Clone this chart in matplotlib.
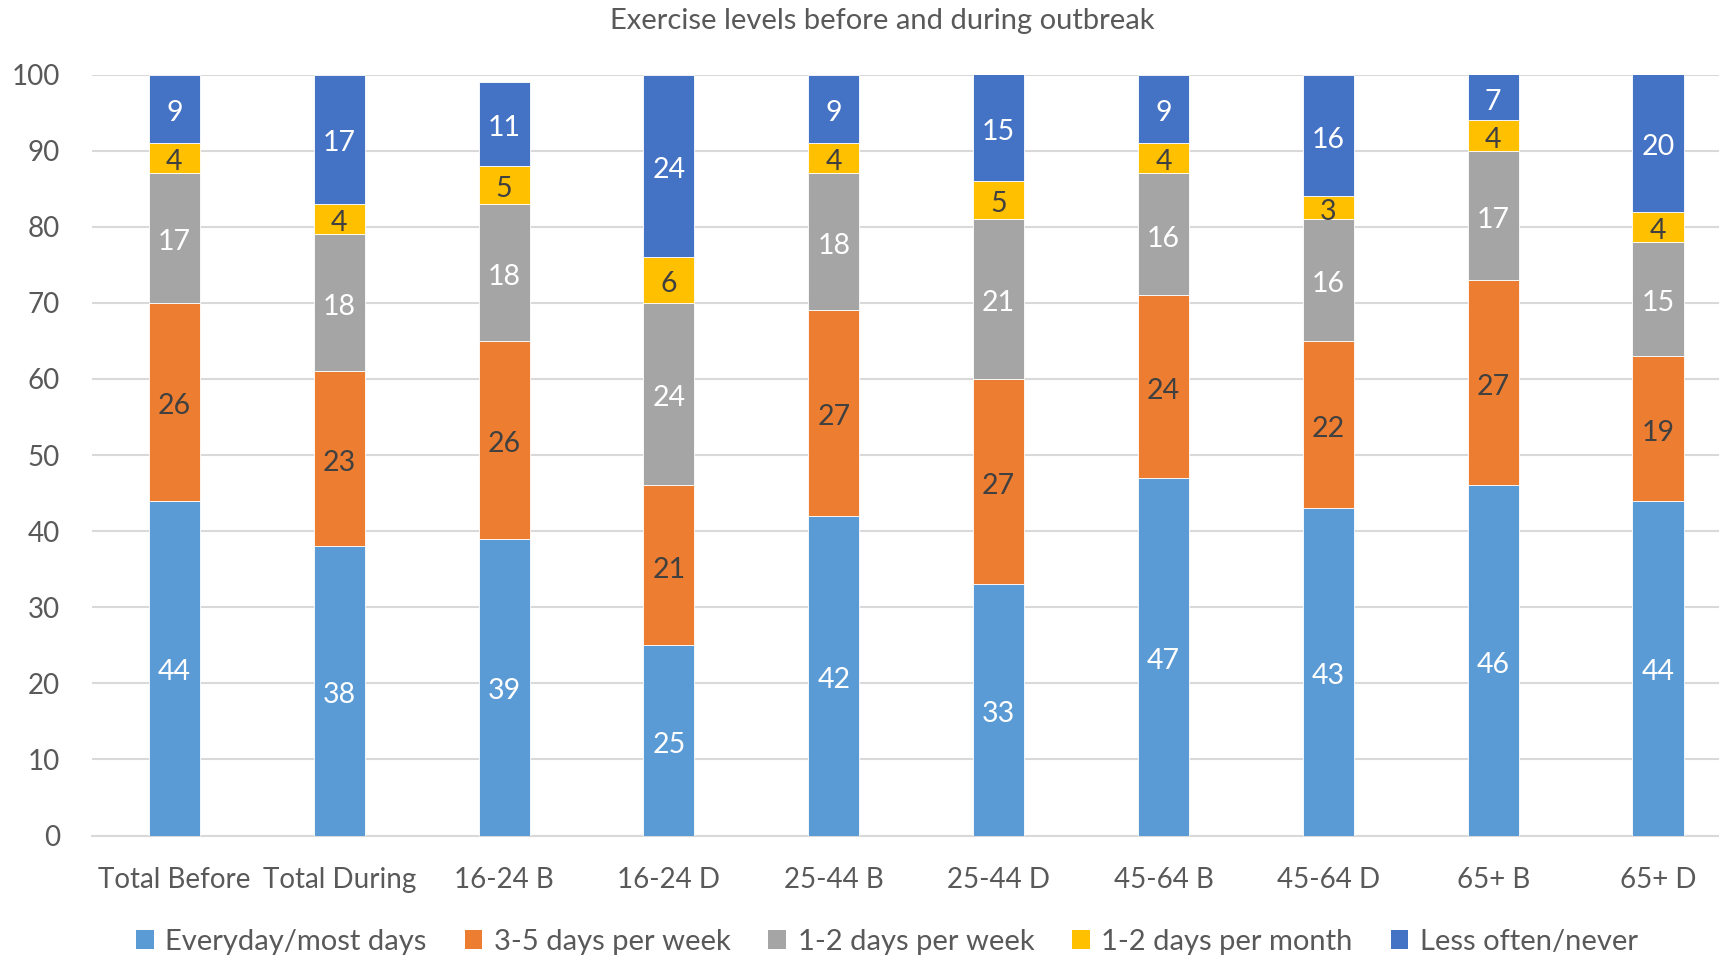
import matplotlib
matplotlib.use("Agg")
import matplotlib.pyplot as plt
import numpy as np

plt.rcParams['font.family'] = ['Lato', 'DejaVu Sans']

categories = ["Total Before", "Total During", "16-24 B", "16-24 D", "25-44 B",
              "25-44 D", "45-64 B", "45-64 D", "65+ B", "65+ D"]
series_names = ["Everyday/most days", "3-5 days per week", "1-2 days per week",
                "1-2 days per month", "Less often/never"]
everyday = [44, 38, 39, 25, 42, 33, 47, 43, 46, 44]
three_five_week = [26, 23, 26, 21, 27, 27, 24, 22, 27, 19]
one_two_week = [17, 18, 18, 24, 18, 21, 16, 16, 17, 15]
one_two_month = [4, 4, 5, 6, 4, 5, 4, 3, 4, 4]
less_often = [9, 17, 11, 24, 9, 15, 9, 16, 7, 20]

series = [everyday, three_five_week, one_two_week, one_two_month, less_often]
colors = ["#5B9BD5", "#ED7D31", "#A5A5A5", "#FFC000", "#4472C4"]
label_colors = ["white", "#404040", "white", "#404040", "white"]
text_grey = "#595959"

fig = plt.figure(figsize=(17.19, 9.56), dpi=100)
ax = fig.add_axes([0.0535, 0.126, 0.9465, 0.796])

x = np.arange(len(categories))
ymax = 100
bottom = np.zeros(len(categories))
for name, vals, col, lcol in zip(series_names, series, colors, label_colors):
    vals = np.array(vals, dtype=float)
    ax.bar(x, vals, width=0.31, bottom=bottom, color=col, label=name,
           edgecolor="white", linewidth=0.6, zorder=3)
    for xi, b, v in zip(x, bottom, vals):
        top = min(b + v, ymax)
        ax.annotate(f"{int(v)}", xy=(xi, (b + top) / 2), xytext=(0, -3),
                    textcoords="offset points", ha="center", va="center",
                    color=lcol, fontsize=20.5, zorder=4)
    bottom += vals

ax.set_ylim(0, ymax)
ax.set_xlim(-0.5, 9.37)
ax.set_yticks(np.arange(0, 101, 10))
ax.set_xticks(x)
ax.set_xticklabels(categories)
ax.tick_params(axis="both", length=0, labelsize=20, colors=text_grey)
ax.tick_params(axis="x", pad=23)
ax.tick_params(axis="y", pad=23)
ax.grid(axis="y", color="#D9D9D9", linewidth=1.5, zorder=0)
for side in ["top", "right", "left"]:
    ax.spines[side].set_visible(False)
ax.spines["bottom"].set_color("#D9D9D9")
ax.spines["bottom"].set_linewidth(1.5)

fig.text(0.513, 0.978, "Exercise levels before and during outbreak",
         ha="center", va="center", fontsize=21, color=text_grey)

handles, labels = ax.get_legend_handles_labels()
leg = fig.legend(handles, labels, loc="center", bbox_to_anchor=(0.516, 0.015),
                 ncol=5, frameon=False, fontsize=21, handlelength=0.6,
                 handleheight=0.6, handletextpad=0.4, columnspacing=1.3,
                 labelcolor=text_grey)
for h in leg.legend_handles:
    h.set_edgecolor("none")

fig.savefig("out.png", dpi=100)
